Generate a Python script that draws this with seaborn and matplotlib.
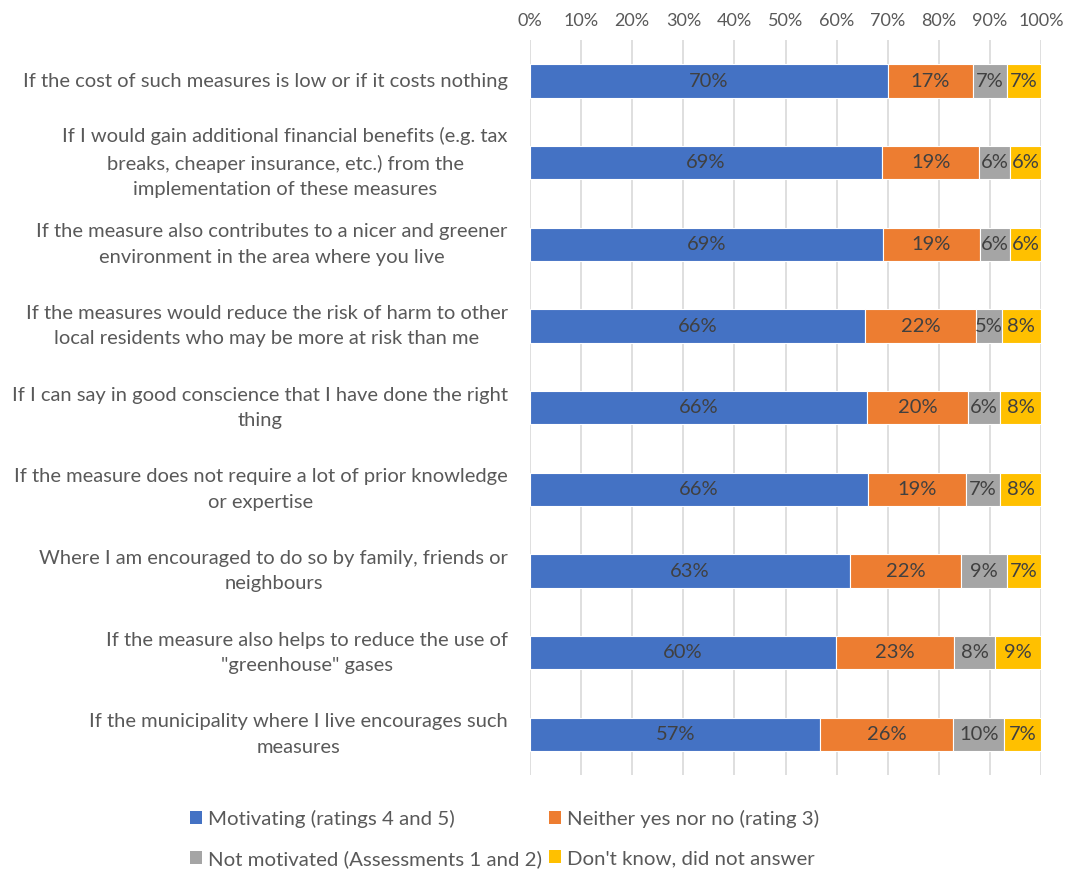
import numpy as np
import pandas as pd
import matplotlib.pyplot as plt
import seaborn as sns
from matplotlib.patches import Patch
from matplotlib.ticker import PercentFormatter

questions = [
    "If the cost of such measures is low or if it costs nothing",
    "If I would gain additional financial benefits (e.g. tax\nbreaks, cheaper insurance, etc.) from the\nimplementation of these measures",
    "If the measure also contributes to a nicer and greener\nenvironment in the area where you live",
    "If the measures would reduce the risk of harm to other\nlocal residents who may be more at risk than me",
    "If I can say in good conscience that I have done the right\nthing",
    "If the measure does not require a lot of prior knowledge\nor expertise",
    "Where I am encouraged to do so by family, friends or\nneighbours",
    "If the measure also helps to reduce the use of\n\"greenhouse\" gases",
    "If the municipality where I live encourages such\nmeasures",
]
motivating = [70.0, 68.9, 69.0, 65.6, 66.0, 66.1, 62.6, 59.9, 56.8]
neither = [16.6, 19.0, 19.0, 21.7, 19.7, 19.2, 21.7, 23.1, 26.0]
not_motivated = [6.8, 6.0, 6.0, 5.0, 6.3, 6.7, 9.0, 8.0, 10.0]
dont_know = [6.6, 6.1, 6.0, 7.7, 8.0, 8.0, 6.7, 9.0, 7.2]

series = ["Motivating (ratings 4 and 5)", "Neither yes nor no (rating 3)",
          "Not motivated (Assessments 1 and 2)", "Don't know, did not answer"]
colors = ["#4472C4", "#ED7D31", "#A5A5A5", "#FFC000"]

df = pd.DataFrame({"question": questions, series[0]: motivating, series[1]: neither,
                   series[2]: not_motivated, series[3]: dont_know})

sns.set_style("white")
plt.rcParams["font.family"] = ["Lato", "DejaVu Sans"]
txt = "#595959"

fig = plt.figure(figsize=(10.76, 8.74), dpi=100)
ax = fig.add_axes([0.4926, 0.113, 0.4749, 0.841])

left = np.zeros(len(questions))
for s, c in zip(series, colors):
    sns.barplot(data=df, y="question", x=s, order=questions, orient="h", color=c,
                saturation=1, left=left, width=0.41, edgecolor="white",
                linewidth=0.8, ax=ax)
    cont = ax.containers[-1]
    ax.bar_label(cont, labels=[f"{v:.0f}%" for v in df[s]], label_type="center",
                 color="#404040", fontsize=14.5)
    left = left + df[s].values

ax.set_xlim(0, 100)
ax.set_ylim(8.5, -0.5)
ax.set_xticks(np.arange(0, 101, 10))
ax.xaxis.set_major_formatter(PercentFormatter(decimals=0))
ax.xaxis.tick_top()
ax.set_yticks(range(len(questions)), labels=questions, multialignment="center",
              linespacing=1.6, verticalalignment="center")
ax.tick_params(axis="x", length=0, pad=8, labelsize=13, labelcolor=txt)
ax.tick_params(axis="y", length=0, pad=16, labelsize=14.5, labelcolor=txt)
ax.set_xlabel("")
ax.set_ylabel("")
ax.grid(axis="x", color="#D9D9D9", linewidth=1.2)
ax.set_axisbelow(True)
for sp in ax.spines.values():
    sp.set_visible(False)

# legend filled row by row, as in the original
order = [0, 2, 1, 3]
handles = [Patch(facecolor=colors[i], edgecolor="none") for i in order]
fig.legend(handles, [series[i] for i in order], loc="upper left",
           bbox_to_anchor=(0.169, 0.083), ncol=2, frameon=False, fontsize=14.7,
           labelcolor=txt, handlelength=0.6, handleheight=0.6, handletextpad=0.3,
           columnspacing=0.3, labelspacing=1.1, borderaxespad=0)

fig.savefig("out.png", dpi=100)
